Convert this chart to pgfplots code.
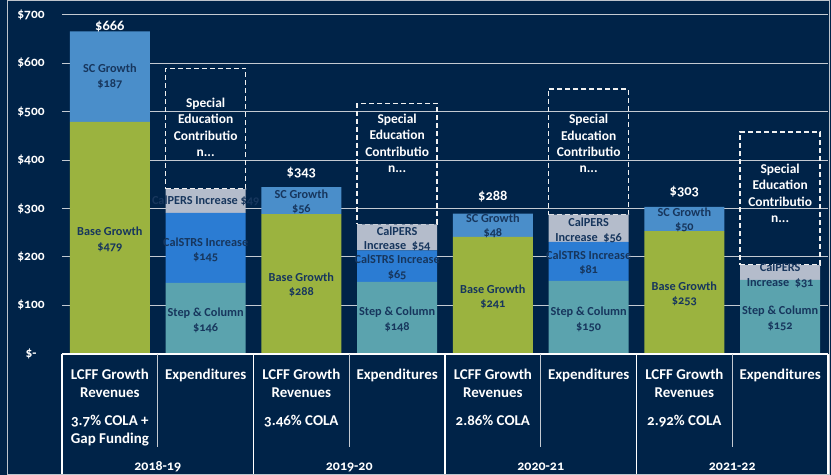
\documentclass[border=0pt]{standalone}
\usepackage{fontspec}
\setmainfont{Carlito}[Numbers=OldStyle]
\usepackage{pgfplots}
\pgfplotsset{compat=1.18}

\definecolor{navy}{RGB}{0,35,72}
\definecolor{framegray}{RGB}{190,196,204}
\definecolor{gridgray}{RGB}{196,202,210}
\definecolor{basegreen}{RGB}{155,179,63}
\definecolor{scblue}{RGB}{74,142,202}
\definecolor{strsblue}{RGB}{43,124,211}
\definecolor{persgray}{RGB}{180,188,203}
\definecolor{stepteal}{RGB}{91,163,174}
\definecolor{labelnavy}{RGB}{23,54,93}

\pgfplotsset{
  chartbox/.style={
    scale only axis, width=766bp, height=338.5bp,
    at={(0,0)}, anchor=south west,
    xmin=-0.5, xmax=7.5, ymin=0, ymax=700,
    axis line style={draw=none}, major tick length=0pt,
    xtick=\empty,
  },
  hiddenbox/.style={chartbox, ytick=\empty},
  lbl/.style={only marks, mark=none, nodes near coords, point meta=explicit symbolic,
    every node near coord/.append style={anchor=center, align=center, inner sep=0pt}},
}
\newcommand{\tabtxt}[3]{\node[anchor=base, text=white, inner sep=0pt,
  font=\fontsize{15}{18}\selectfont\bfseries] at (#1bp,#2bp) {#3};}

\begin{document}
\begin{tikzpicture}
\fill[navy, use as bounding box] (-62bp,-121.5bp) rectangle (769bp,353.5bp);
\draw[framegray, line width=1bp] (-54bp,-120.5bp) rectangle (767bp,352.5bp);

% revenues
\begin{axis}[chartbox, ybar stacked, bar width=80bp,
  ymajorgrids, grid style={gridgray, line width=1bp},
  ytick={0,100,...,700},
  yticklabels={\$-,\$100,\$200,\$300,\$400,\$500,\$600,\$700},
  yticklabel style={anchor=center, xshift=-31bp, text=white,
    font=\fontsize{13.5}{16}\selectfont\bfseries},
]
\addplot[fill=basegreen, draw=none] coordinates {(0,479) (2,288) (4,241) (6,253)};
\addplot[fill=scblue, draw=none] coordinates {(0,187) (2,56) (4,48) (6,50)};
\end{axis}

% expenditures
\begin{axis}[hiddenbox, ybar stacked, bar width=80bp]
\addplot[fill=stepteal, draw=none] coordinates {(1,146) (3,148) (5,150) (7,152)};
\addplot[fill=strsblue, draw=none] coordinates {(1,145) (3,65) (5,81) (7,0)};
\addplot[fill=persgray, draw=none] coordinates {(1,49) (3,54) (5,56) (7,31)};
\addplot[fill=none, draw=white!88!gray, line width=1.3bp, dash pattern=on 5bp off 3bp]
  coordinates {(1,250) (3,250) (5,260) (7,275)};
\end{axis}

% labels
\begin{axis}[hiddenbox]
\addplot[lbl, every node near coord/.append style={text=labelnavy,
    font=\fontsize{12.3}{14.5}\selectfont\bfseries}] coordinates {
  (0,236) [Base Growth\\\$479]
  (0,573) [SC Growth\\\$187]
  (1,69) [Step \& Column\\\$146]
  (1,214) [CalSTRS Increase\\\$145]
  (1,315) [CalPERS Increase \$49]
  (2,142) [Base Growth\\\$288]
  (2,314) [SC Growth\\\$56]
  (3,71) [Step \& Column\\\$148]
  (3,178) [CalSTRS Increase\\\$65]
  (3,237) [CalPERS\\Increase \ \$54]
  (4,117) [Base Growth\\\$241]
  (4,264) [SC Growth\\\$48]
  (5,71) [Step \& Column\\\$150]
  (5,187) [CalSTRS Increase\\\$81]
  (5,255) [CalPERS\\Increase \ \$56]
  (6,123) [Base Growth\\\$253]
  (6,276) [SC Growth\\\$50]
  (7,73) [Step \& Column\\\$152]
  (7,162) [CalPERS\\Increase \ \$31]
};
\addplot[lbl, every node near coord/.append style={text=white,
    font=\fontsize{13.5}{16.5}\selectfont\bfseries}] coordinates {
  (1,468) [Special\\Education\\Contributio\\n...]
  (3,435) [Special\\Education\\Contributio\\n...]
  (5,434) [Special\\Education\\Contributio\\n...]
  (7,331) [Special\\Education\\Contributio\\n...]
};
\addplot[lbl, every node near coord/.append style={text=white,
    font=\fontsize{14.5}{17}\selectfont\bfseries}] coordinates {
  (0,676) [\$666]
  (2,375) [\$343]
  (4,324) [\$288]
  (6,334) [\$303]
};
\end{axis}

% category table
\draw[white, line width=1.3bp] (0,-0.5bp) -- (766bp,-0.5bp);
\foreach \x in {0,191.5,383,574.5,766}
  \draw[white, line width=1.3bp] (\x bp,-0.5bp) -- (\x bp,-120.5bp);
\foreach \x in {95.75,287.25,478.75,670.25}
  \draw[gridgray, line width=1.1bp] (\x bp,-0.5bp) -- (\x bp,-93.5bp);

\foreach \c in {47.875,239.375,430.875,622.375}{
  \tabtxt{\c}{-25.5}{LCFF Growth}
  \tabtxt{\c}{-43.5}{Revenues}
}
\foreach \c in {143.625,335.125,526.625,718.125}{
  \tabtxt{\c}{-25.5}{Expenditures}
}
\tabtxt{47.875}{-71.5}{3.7\% COLA +}
\tabtxt{47.875}{-89.5}{Gap Funding}
\tabtxt{239.375}{-71.5}{3.46\% COLA}
\tabtxt{430.875}{-71.5}{2.86\% COLA}
\tabtxt{622.375}{-71.5}{2.92\% COLA}

\foreach \c/\yr in {95.75/2018-19,287.25/2019-20,478.75/2020-21,670.25/2021-22}
  \node[anchor=base, text=white, inner sep=0pt,
    font=\fontsize{14}{16}\selectfont\bfseries] at (\c bp,-116.5bp) {\yr};
\end{tikzpicture}
\end{document}
